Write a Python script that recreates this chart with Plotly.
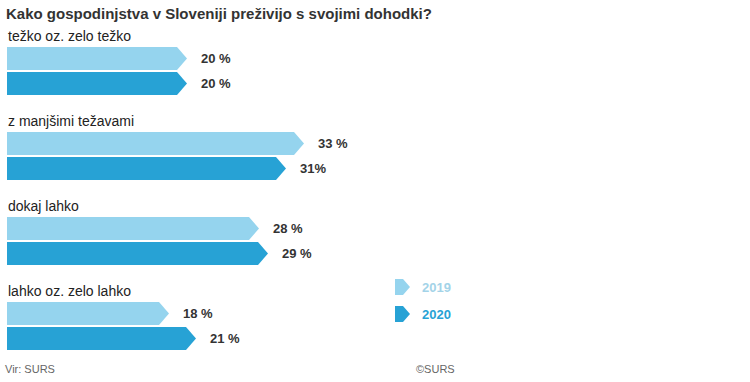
import plotly.graph_objects as go

# ---- data ----
categories = ["težko oz. zelo težko", "z manjšimi težavami", "dokaj lahko", "lahko oz. zelo lahko"]
years = ["2019", "2020"]
values_2019 = [20, 33, 28, 18]
values_2020 = [20, 31, 29, 21]
labels_2019 = ["20 %", "33 %", "28 %", "18 %"]
labels_2020 = ["20 %", "31%", "29 %", "21 %"]

title = "Kako gospodinjstva v Sloveniji preživijo s svojimi dohodki?"
source = "Vir: SURS"
copyright_txt = "©SURS"

# ---- style ----
W, H = 750, 382
PX_PER_UNIT = 9.0
X0_PX = 7
C19 = "#95d4ee"
C20 = "#27a2d5"
FONT = "Liberation Sans, Arial, sans-serif"

x_range = [-X0_PX / PX_PER_UNIT, (W - X0_PX) / PX_PER_UNIT]
tip = 10 / PX_PER_UNIT
bar_h = 23
group_top0 = 47
group_step = 85
gap = 2

fig = go.Figure()


def arrow(v, top, h, color):
    xs = [0, v - tip, v, v - tip, 0, 0]
    ys = [top, top, top + h / 2, top + h, top + h, top]
    fig.add_trace(go.Scatter(x=xs, y=ys, fill="toself", fillcolor=color, mode="lines",
                             line=dict(width=0, color=color), hoverinfo="skip", showlegend=False))


for i, cat in enumerate(categories):
    gt = group_top0 + group_step * i
    series = [(values_2019[i], labels_2019[i], C19, gt),
              (values_2020[i], labels_2020[i], C20, gt + bar_h + gap)]
    for v, lab, col, top in series:
        arrow(v, top, bar_h, col)
        fig.add_annotation(x=v + 12 / PX_PER_UNIT, y=top + bar_h / 2, text=lab, showarrow=False,
                           xanchor="left", yanchor="middle",
                           font=dict(family=FONT, size=13, color="#333333", weight="bold"))
    fig.add_annotation(x=-1.5 / PX_PER_UNIT, y=gt - 1, text=cat, showarrow=False, xanchor="left",
                       yanchor="bottom", font=dict(family=FONT, size=14, color="#222222"))

# legend (custom arrow icons)
leg_x0 = (395 - X0_PX) / PX_PER_UNIT
leg_w = 15 / PX_PER_UNIT
leg_tip = 7 / PX_PER_UNIT
for k, (yr, col) in enumerate(zip(years, [C19, C20])):
    top = 279 + 27 * k
    h = 16
    xs = [leg_x0, leg_x0 + leg_w - leg_tip, leg_x0 + leg_w, leg_x0 + leg_w - leg_tip, leg_x0, leg_x0]
    ys = [top, top, top + h / 2, top + h, top + h, top]
    fig.add_trace(go.Scatter(x=xs, y=ys, fill="toself", fillcolor=col, mode="lines",
                             line=dict(width=0, color=col), hoverinfo="skip", showlegend=False))
    fig.add_annotation(x=(420 - X0_PX) / PX_PER_UNIT, y=top + h / 2, text=yr, showarrow=False,
                       xanchor="left", yanchor="middle",
                       font=dict(family=FONT, size=13, color=col if k else "#a3d3e8", weight="bold"))

fig.add_annotation(xref="paper", yref="paper", x=4 / W, y=1 - 13 / H, text=title, showarrow=False,
                   xanchor="left", yanchor="middle",
                   font=dict(family=FONT, size=15, color="#333333", weight="bold"))
fig.add_annotation(xref="paper", yref="paper", x=3 / W, y=1 - 369 / H, text=source, showarrow=False,
                   xanchor="left", yanchor="middle", font=dict(family=FONT, size=11, color="#666666"))
fig.add_annotation(xref="paper", yref="paper", x=457 / W, y=1 - 369 / H, text=copyright_txt, showarrow=False,
                   xanchor="right", yanchor="middle", font=dict(family=FONT, size=11, color="#666666"))

fig.update_layout(
    width=W, height=H, margin=dict(l=0, r=0, t=0, b=0),
    paper_bgcolor="white", plot_bgcolor="white",
    xaxis=dict(range=x_range, visible=False, fixedrange=True),
    yaxis=dict(range=[H, 0], visible=False, fixedrange=True),
    showlegend=False,
)

fig.write_html("out.html", config={"displayModeBar": False},
               post_script="document.body.style.margin='0';document.body.style.overflow='hidden';")
